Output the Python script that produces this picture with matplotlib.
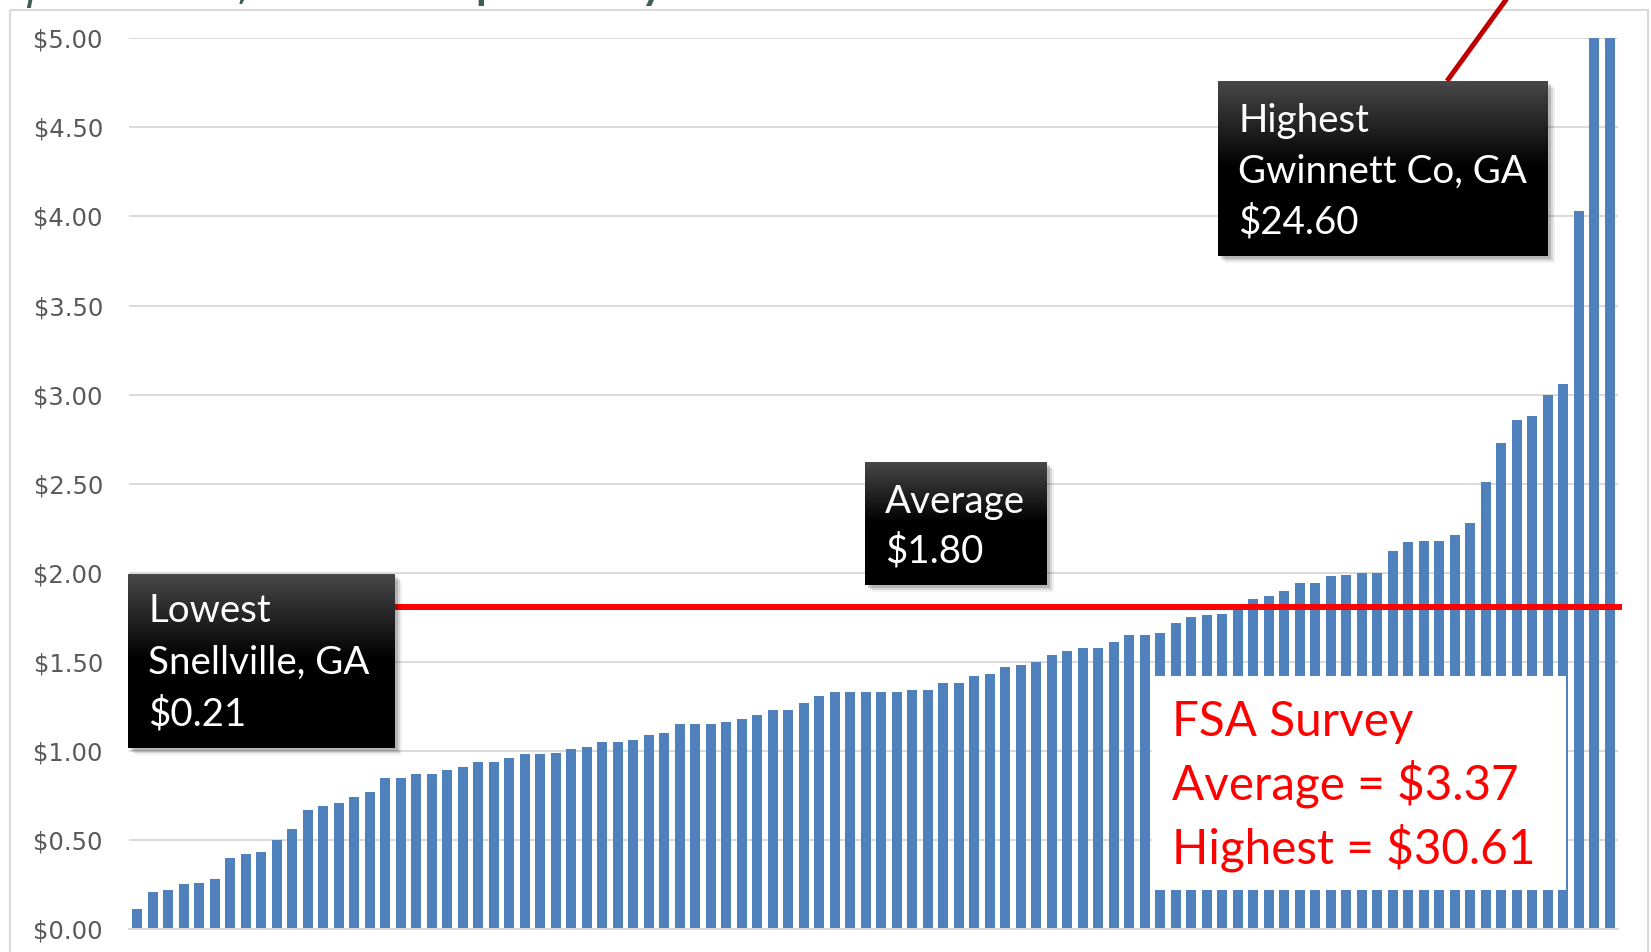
import numpy as np
import matplotlib.pyplot as plt
from matplotlib.patches import Rectangle

plt.rcParams['font.family'] = ['Lato', 'DejaVu Sans']

# charge per community, sorted low to high; the last two run past the $5.00 scale
rates = [0.11, 0.21, 0.22, 0.25, 0.26, 0.28, 0.40, 0.42, 0.43, 0.50,
         0.56, 0.67, 0.69, 0.71, 0.74, 0.77, 0.85, 0.85, 0.87, 0.87,
         0.89, 0.91, 0.94, 0.94, 0.96, 0.98, 0.98, 0.99, 1.01, 1.02,
         1.05, 1.05, 1.06, 1.09, 1.10, 1.15, 1.15, 1.15, 1.16, 1.18,
         1.20, 1.23, 1.23, 1.27, 1.31, 1.33, 1.33, 1.33, 1.33, 1.33,
         1.34, 1.34, 1.38, 1.38, 1.42, 1.43, 1.47, 1.48, 1.50, 1.54,
         1.56, 1.58, 1.58, 1.61, 1.65, 1.65, 1.66, 1.72, 1.75, 1.76,
         1.77, 1.81, 1.85, 1.87, 1.90, 1.94, 1.94, 1.98, 1.99, 2.00,
         2.00, 2.12, 2.17, 2.18, 2.18, 2.21, 2.28, 2.51, 2.73, 2.86,
         2.88, 3.00, 3.06, 4.03, 6.10, 24.60]
avg_rate = 1.81  # where the red line sits in the picture (labelled $1.80)
y_ticks = np.arange(0, 5.01, 0.5)
tick_labels = ['$%.2f' % v for v in y_ticks]

low_lines = ['Lowest', 'Snellville, GA', '$0.21']
avg_lines = ['Average', '$1.80']
high_lines = ['Highest', 'Gwinnett Co, GA', '$24.60']
fsa_lines = ['FSA Survey', 'Average = $3.37', 'Highest = $30.61']
# slide title, mostly above the visible area
title = '$ per Month, Total Cost $ per Study'

W, H = 1651, 952
fig = plt.figure(figsize=(W / 100, H / 100), dpi=100)

# main bar chart
ax = fig.add_axes([129.3 / W, 23 / H, 1488.4 / W, 890.7 / H])
x = np.arange(len(rates))
ax.bar(x, rates, width=0.64, color='#4F81BD', zorder=2)
ax.set_xlim(-0.5, len(rates) - 0.5)
ax.set_ylim(0, 5)
ax.set_yticks(y_ticks)
ax.set_yticklabels(tick_labels, fontsize=17.5, color='#595959', family='DejaVu Sans')
ax.tick_params(axis='y', length=0, pad=19)
ax.set_xticks([])
ax.grid(axis='y', color='#D9D9D9', lw=1.4, zorder=0)
for s in ['top', 'right', 'left']:
    ax.spines[s].set_visible(False)
ax.spines['bottom'].set_color('#D9D9D9')
ax.spines['bottom'].set_linewidth(1.4)
ax.axhline(avg_rate, xmin=0, xmax=1.003, color='#FF0000', lw=4.3, zorder=3,
           clip_on=False, solid_capstyle='butt')

# overlay in pixel units for the callouts
ov = fig.add_axes([0, 0, 1, 1], zorder=5)
ov.axis('off')

ov.add_patch(Rectangle((10, 10), W - 13, H + 20, fill=False, ec='#D9D9D9', lw=1.5, clip_on=False))
ov.text(26, -1, title, fontsize=31.5, fontweight='bold', color='#3E5F4D', va='baseline', clip_on=False)


def dark_box(x0, y0, x1, y1, lines, size, base0, step):
    for off, a in [(7, 0.06), (5, 0.10), (3, 0.16)]:
        ov.add_patch(Rectangle((x0 + off, y0 + off), x1 - x0, y1 - y0, color='k', alpha=a, lw=0, zorder=2))
    grad = np.concatenate([np.linspace(0.28, 0.0, 50), np.zeros(50)])
    img = np.repeat(grad[:, None, None], 3, axis=2)
    ov.imshow(img, extent=(x0, x1, y1, y0), aspect='auto', interpolation='bilinear', zorder=3)
    for i, t in enumerate(lines):
        ov.text(x0 + 20, base0 + i * step, t, fontsize=size, color='white', va='baseline', zorder=4)


# pointer to the off-scale highest bar
ov.plot([1447, 1508], [81, -3], color='#C00000', lw=3.6, solid_capstyle='butt', clip_on=False, zorder=1)

dark_box(128, 574, 395, 748, low_lines, 27.7, 622, 51.5)
dark_box(865, 462, 1047, 585, avg_lines, 27.7, 513, 49.5)
dark_box(1218, 81, 1548, 256, high_lines, 27.7, 132, 51)

ov.add_patch(Rectangle((1152, 676), 1566 - 1152, 890 - 676, fc='white', ec='none', zorder=2))
for i, t in enumerate(fsa_lines):
    ov.text(1172, 736 + i * 63.5, t, fontsize=34.3, color='#FF0000', va='baseline', zorder=4)

ov.set_xlim(0, W)
ov.set_ylim(H, 0)

fig.savefig('out.png', dpi=100)
